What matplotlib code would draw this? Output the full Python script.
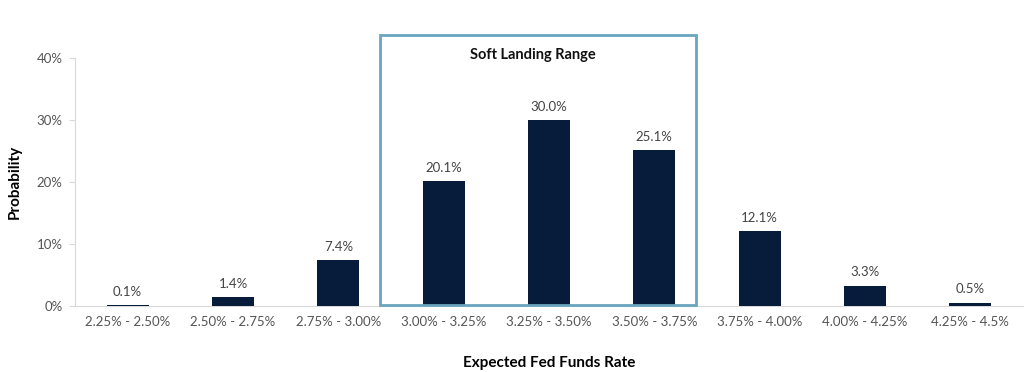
import numpy as np
import matplotlib.pyplot as plt
from matplotlib.patches import Rectangle

plt.rcParams['font.family'] = ['Lato', 'DejaVu Sans']

# data
ranges = ["2.25% - 2.50%", "2.50% - 2.75%", "2.75% - 3.00%", "3.00% - 3.25%",
          "3.25% - 3.50%", "3.50% - 3.75%", "3.75% - 4.00%", "4.00% - 4.25%",
          "4.25% - 4.5%"]
probability = [0.1, 1.4, 7.4, 20.1, 30.0, 25.1, 12.1, 3.3, 0.5]
y_ticks = [0, 10, 20, 30, 40]
soft_landing = (3, 5)  # first and last index of the highlighted range

navy = "#071c3b"
box_color = "#6aa5bf"
text_gray = "#555555"
spine_gray = "#d9d9d9"

fig = plt.figure(figsize=(10.24, 3.72), dpi=100)
ax = fig.add_axes([75 / 1024, 1 - 306 / 372, 948 / 1024, 248 / 372])

x = np.arange(len(ranges))
ax.bar(x, probability, width=0.4, color=navy, zorder=3)
for xi, v in zip(x, probability):
    ax.text(xi, v + 1.2, f"{v:.1f}%", ha="center", va="bottom",
            fontsize=9.5, color="#444444")

ax.set_xlim(-0.5, len(ranges) - 0.5)
ax.set_ylim(0, 40)
ax.set_yticks(y_ticks)
ax.set_yticklabels([f"{t}%" for t in y_ticks])
ax.set_xticks(x)
ax.set_xticklabels(ranges)
ax.tick_params(axis="x", length=0, pad=7, labelsize=9.5, labelcolor=text_gray)
ax.tick_params(axis="y", length=4, color=spine_gray, pad=5, labelsize=9.5,
               labelcolor=text_gray)
for s in ["top", "right"]:
    ax.spines[s].set_visible(False)
for s in ["left", "bottom"]:
    ax.spines[s].set_color(spine_gray)

ax.set_ylabel("Probability", fontsize=11, fontweight="bold")
ax.yaxis.set_label_coords(-0.056, 0.5)
ax.set_xlabel("Expected Fed Funds Rate", fontsize=11, fontweight="bold")
ax.xaxis.set_label_coords(0.5, -0.2)

# soft landing box
x0 = soft_landing[0] - 0.6
x1 = soft_landing[1] + 0.4
rect = Rectangle((x0, 0.1), x1 - x0, 43.6, fill=False, edgecolor=box_color,
                 linewidth=2, clip_on=False, zorder=4)
ax.add_patch(rect)
ax.text((x0 + x1) / 2 - 0.05, 40.5, "Soft Landing Range", ha="center", va="center",
        fontsize=10.5, fontweight="bold", color="#111111")

fig.savefig("out.png", dpi=100)
